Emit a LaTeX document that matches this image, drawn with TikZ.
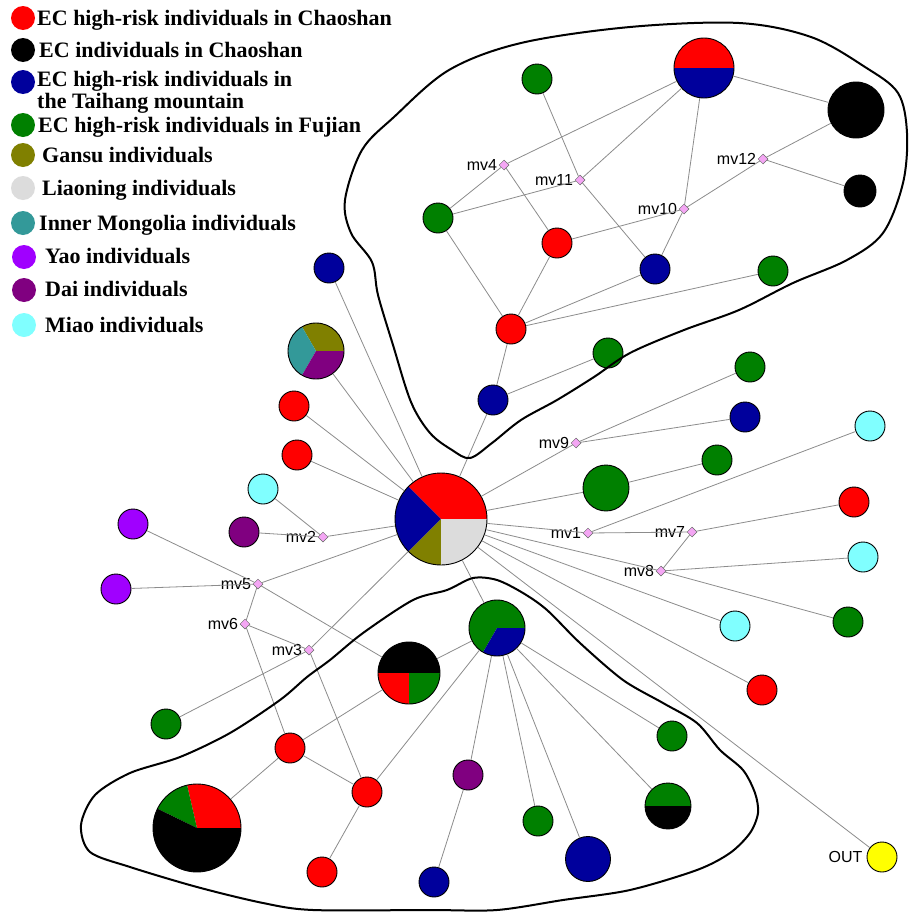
\documentclass[tikz,border=0pt]{standalone}
\usepackage{fontspec}
\setmainfont{Liberation Serif}
\newfontfamily\lblfont{Liberation Sans}
\usetikzlibrary{shapes.geometric}
\definecolor{cRed}{HTML}{FF0000}
\definecolor{cBlack}{HTML}{000000}
\definecolor{cBlue}{HTML}{00009C}
\definecolor{cGreen}{HTML}{008000}
\definecolor{cOlive}{HTML}{808000}
\definecolor{cGrey}{HTML}{DCDCDC}
\definecolor{cTeal}{HTML}{339999}
\definecolor{cYao}{HTML}{A000FF}
\definecolor{cDai}{HTML}{800080}
\definecolor{cMiao}{HTML}{80FFFF}
\definecolor{cYellow}{HTML}{FFFF00}
\definecolor{cPink}{HTML}{F4A6F4}
\definecolor{cEdge}{HTML}{8C8C8C}
\newcommand\sect[5]{\fill[#5] (#1) -- ++(#2:#4pt) arc[start angle=#2, end angle=#3, radius=#4pt] -- cycle;}
\newcommand\mvnode[3]{\node[mvd] (#1) at (#2) {};\node[lbl, anchor=east] (#1t) at ([xshift=-1.5pt]#1.west) {#3};}
\begin{document}
\begin{tikzpicture}[x=1pt,y=1pt,
  hap/.style={circle, draw=black, line width=0.9pt, inner sep=0pt, minimum size=30pt},
  mvd/.style={diamond, draw=black!60, fill=cPink, line width=0.5pt, inner sep=0pt, minimum size=10pt},
  lbl/.style={font=\lblfont\fontsize{16}{16}\selectfont, inner sep=0pt},
  edge/.style={draw=cEdge, line width=0.8pt},
  bound/.style={draw=black, line width=2pt},
  leg/.style={circle, inner sep=0pt, minimum size=24pt},
  legtext/.style={anchor=base west, font=\bfseries\fontsize{22}{22}\selectfont, inner sep=0pt}]
\useasboundingbox (0,0) rectangle (908,-913);
\fill[white] (0,0) rectangle (908,-913);

% ---------- legend ----------
\node[leg, fill=cRed]   (l1) at (23,-18) {};
\node[leg, fill=cBlack] (l2) at (23,-50) {};
\node[leg, fill=cBlue]  (l3) at (23,-82) {};
\node[leg, fill=cGreen] (l4) at (23,-125) {};
\node[leg, fill=cOlive] (l5) at (23,-155) {};
\node[leg, fill=cGrey]  (l6) at (23,-188) {};
\node[leg, fill=cTeal]  (l7) at (23,-223) {};
\node[leg, fill=cYao]   (l8) at (24,-257) {};
\node[leg, fill=cDai]   (l9) at (24,-290) {};
\node[leg, fill=cMiao]  (l10) at (24,-325) {};
\node[legtext] (t1) at (37,-25) {EC high-risk individuals in Chaoshan};
\node[legtext] (t2) at (39,-57) {EC individuals in Chaoshan};
\node[legtext] (t3a) at (37,-86) {EC high-risk individuals in};
\node[legtext] (t3b) at (37,-108) {the Taihang mountain};
\node[legtext] (t4) at (38,-132) {EC high-risk individuals in Fujian};
\node[legtext] (t5) at (42,-162) {Gansu individuals};
\node[legtext] (t6) at (42,-195) {Liaoning individuals};
\node[legtext] (t7) at (39,-230) {Inner Mongolia individuals};
\node[legtext] (t8) at (45,-263) {Yao individuals};
\node[legtext] (t9) at (45,-296) {Dai individuals};
\node[legtext] (t10) at (45,-332) {Miao individuals};

% ---------- pies ----------
\coordinate (rbc) at (704,-68);
\sect{rbc}{0}{180}{30}{cRed}\sect{rbc}{180}{360}{30}{cBlue}
\node[hap, minimum size=60pt] (rb) at (rbc) {};

\coordinate (hubc) at (441,-519);
\sect{hubc}{0}{135}{46}{cRed}\sect{hubc}{135}{225}{46}{cBlue}
\sect{hubc}{225}{270}{46}{cOlive}\sect{hubc}{270}{360}{46}{cGrey}
\node[hap, minimum size=92pt] (hub) at (hubc) {};

\coordinate (p3c) at (316,-351);
\sect{p3c}{0}{120}{28}{cOlive}\sect{p3c}{120}{240}{28}{cTeal}\sect{p3c}{240}{360}{28}{cDai}
\node[hap, minimum size=56pt] (p3) at (p3c) {};

\coordinate (brgc) at (409,-673);
\sect{brgc}{0}{180}{31}{cBlack}\sect{brgc}{180}{270}{31}{cRed}\sect{brgc}{270}{360}{31}{cGreen}
\node[hap, minimum size=62pt] (brg) at (brgc) {};

\coordinate (gbc) at (497,-628);
\sect{gbc}{0}{240}{28}{cGreen}\sect{gbc}{240}{360}{28}{cBlue}
\node[hap, minimum size=56pt] (gb) at (gbc) {};

\coordinate (bigc) at (197,-828);
\sect{bigc}{0}{103}{44}{cRed}\sect{bigc}{103}{154}{44}{cGreen}\sect{bigc}{154}{360}{44}{cBlack}
\node[hap, minimum size=88pt] (big) at (bigc) {};

\coordinate (gkc) at (668,-806);
\sect{gkc}{0}{180}{23}{cGreen}\sect{gkc}{180}{360}{23}{cBlack}
\node[hap, minimum size=46pt] (gk) at (gkc) {};

% ---------- single-colour haplotypes ----------
\node[hap, fill=cGreen] (g1) at (537,-79) {};
\node[hap, fill=cBlack, minimum size=56pt] (k1) at (856,-110) {};
\node[hap, fill=cBlack, minimum size=32pt] (k2) at (860,-191) {};
\node[hap, fill=cGreen] (g2) at (438,-218) {};
\node[hap, fill=cRed]   (r1) at (557,-243) {};
\node[hap, fill=cBlue]  (b1) at (655,-269) {};
\node[hap, fill=cGreen] (g3) at (773,-271) {};
\node[hap, fill=cRed]   (r2) at (511,-329) {};
\node[hap, fill=cGreen] (g4) at (608,-353) {};
\node[hap, fill=cBlue]  (b2) at (493,-400) {};

\node[hap, fill=cBlue]  (b3) at (329,-268) {};
\node[hap, fill=cRed]   (r3) at (294,-406) {};
\node[hap, fill=cRed]   (r4) at (297,-455) {};
\node[hap, fill=cMiao]  (c1) at (263,-489) {};
\node[hap, fill=cDai]   (d1) at (244,-532) {};
\node[hap, fill=cYao]   (y1) at (133,-524) {};
\node[hap, fill=cYao]   (y2) at (116,-589) {};
\node[hap, fill=cGreen] (g5) at (750,-367) {};
\node[hap, fill=cBlue]  (b4) at (745,-417) {};
\node[hap, fill=cMiao]  (c2) at (870,-426) {};
\node[hap, fill=cGreen] (g6) at (717,-460) {};
\node[hap, fill=cGreen, minimum size=46pt] (G) at (606,-488) {};
\node[hap, fill=cRed]   (r5) at (854,-502) {};
\node[hap, fill=cMiao]  (c3) at (863,-557) {};
\node[hap, fill=cMiao]  (c4) at (735,-626) {};
\node[hap, fill=cGreen] (g7) at (848,-622) {};
\node[hap, fill=cRed]   (r6) at (762,-690) {};
\node[hap, fill=cYellow] (out) at (882,-857) {};
\node[lbl, anchor=east] (outt) at ([xshift=-4pt]out.west) {OUT};

\node[hap, fill=cGreen] (g8) at (166,-724) {};
\node[hap, fill=cRed]   (r7) at (290,-748) {};
\node[hap, fill=cRed]   (r8) at (367,-792) {};
\node[hap, fill=cRed]   (r9) at (322,-872) {};
\node[hap, fill=cDai]   (d2) at (468,-775) {};
\node[hap, fill=cBlue]  (b5) at (434,-882) {};
\node[hap, fill=cGreen] (g9) at (538,-821) {};
\node[hap, fill=cBlue, minimum size=45pt] (B) at (588,-859) {};
\node[hap, fill=cGreen] (g10) at (672,-736) {};

% ---------- median vectors ----------
\mvnode{mv4}{504,-165}{mv4}
\mvnode{mv11}{580,-180}{mv11}
\mvnode{mv12}{763,-159}{mv12}
\mvnode{mv10}{684,-209}{mv10}
\mvnode{mv9}{576,-443}{mv9}
\mvnode{mv2}{323,-537}{mv2}
\mvnode{mv1}{588,-533}{mv1}
\mvnode{mv7}{692,-532}{mv7}
\mvnode{mv8}{661,-571}{mv8}
\mvnode{mv5}{258,-584}{mv5}
\mvnode{mv6}{245,-624}{mv6}
\mvnode{mv3}{309,-650}{mv3}

% ---------- connectors ----------
\foreach \a/\b in {g1/mv11, rb/mv4, rb/mv11, rb/mv10, rb/k1, k1/mv12, mv12/k2, mv12/mv10,
  mv4/g2, mv4/r1, mv11/g2, mv11/b1, mv10/r1, mv10/b1, g2/r2, r1/r2, r2/b1, r2/g3, r2/b2,
  b2/g4, b2/hub,
  hub/b3, hub/p3, hub/r3, hub/r4, hub/mv2, mv2/c1, mv2/d1, hub/mv5, mv5/y1, mv5/y2,
  mv5/mv6, mv5/brg, mv6/mv3, mv6/r7, hub/mv3, mv3/g8, mv3/r8, hub/gb,
  hub/mv9, mv9/g5, mv9/b4, hub/G, G/g6, hub/mv1, mv1/c2, mv1/mv7, mv7/r5, mv7/mv8,
  hub/mv8, mv8/c3, mv8/g7, hub/c4, hub/r6, hub/out,
  brg/gb, brg/r7, r7/big, r7/r8, r8/r9, r8/gb, gb/d2, d2/b5, gb/g9, gb/B, gb/gk, gb/g10}
  \draw[edge] (\a) -- (\b);

% ---------- enclosing outlines ----------
\draw[bound] plot[smooth cycle, tension=0.55] coordinates {
  (470,-458) (452,-450) (430,-433) (411,-402) (393,-345) (378,-295) (372,-262) (351,-233)
  (345,-200) (362,-150) (394,-117) (449,-70) (521,-43) (630,-27) (739,-23) (811,-37)
  (865,-67) (898,-93) (907,-133) (903,-183) (883,-233) (847,-260) (793,-283) (739,-310)
  (684,-330) (630,-353) (594,-377) (557,-400) (521,-420) (492,-443)};
\draw[bound] plot[smooth cycle, tension=0.5] coordinates {
  (473,-578) (497,-580) (523,-593) (547,-610) (580,-643) (623,-680) (663,-703) (697,-723)
  (720,-750) (743,-770) (755,-793) (758,-813) (750,-833) (730,-853) (697,-870) (630,-890)
  (563,-900) (497,-910) (430,-910) (313,-910) (263,-903) (197,-887) (130,-867) (90,-852)
  (81,-825) (95,-795) (130,-773) (180,-757) (230,-733) (280,-700) (307,-677) (330,-660)
  (363,-633) (413,-600) (447,-590)};
\end{tikzpicture}
\end{document}
